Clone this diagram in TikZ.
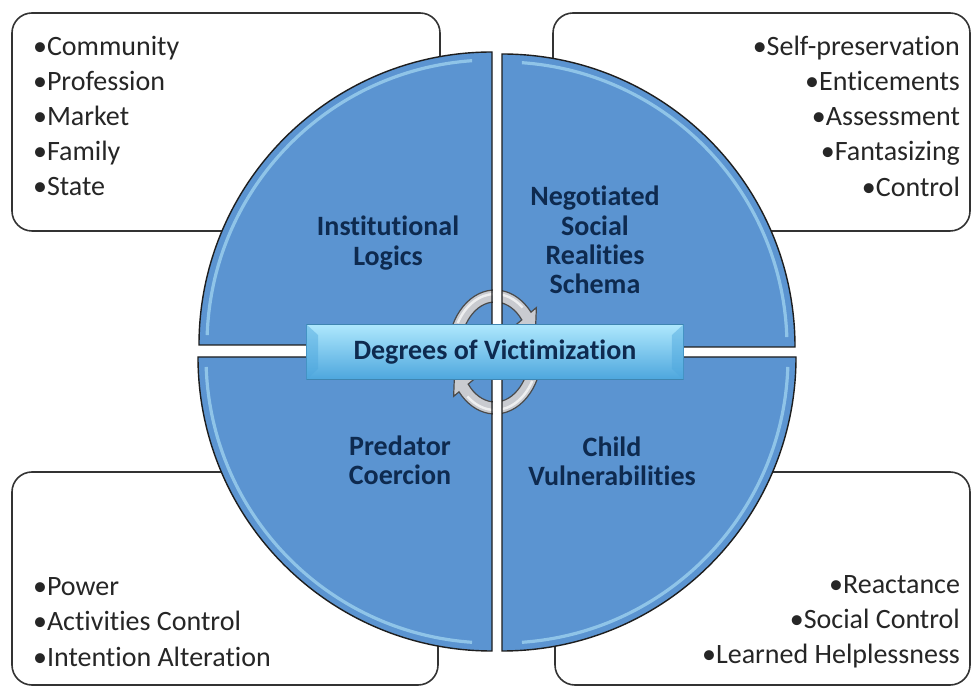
\documentclass[tikz,border=0pt]{standalone}
\usepackage{fontspec}
\setmainfont{Carlito}[Ligatures=NoCommon]
\usetikzlibrary{positioning, calc}
\definecolor{quadblue}{HTML}{5B94D1}
\definecolor{quadline}{HTML}{1E1E1E}
\definecolor{rimblue}{HTML}{B2E4F8}
\definecolor{navytext}{HTML}{0E2A4F}
\definecolor{boxgrey}{HTML}{333333}
\definecolor{bannertop}{HTML}{AEE8FD}
\definecolor{bannermid}{HTML}{7FD0F6}
\definecolor{bannerbot}{HTML}{4DA6DD}
\definecolor{ringgrey}{HTML}{C9CBD0}
\definecolor{ringline}{HTML}{4A4A4A}
\tikzset{
  listbox/.style={draw=boxgrey, line width=0.8pt, rounded corners=10pt, fill=white},
  quadfill/.style={fill=quadblue},
  quadedge/.style={draw=quadline, line width=0.7pt},
  rim/.style={draw=rimblue, line width=1.6pt, opacity=0.6},
  ringarrow/.style={fill=ringgrey, draw=ringline, line width=0.6pt},
  ringshine/.style={draw=white, line width=1.2pt, opacity=0.7},
  banner/.style={rectangle, minimum width=188.5pt, minimum height=27.5pt,
                 top color=bannertop, middle color=bannermid, bottom color=bannerbot,
                 draw=bannerbot!80!black, line width=0.3pt,
                 font=\fontsize{14}{16}\selectfont\bfseries, text=navytext},
  facet/.style={fill=bannerbot, opacity=0.45},
  qlabel/.style={align=center, font=\fontsize{14}{14.6}\selectfont\bfseries, text=navytext},
  items/.style={font=\fontsize{14}{17.6}\selectfont, text=black!85},
}

\begin{document}
\begin{tikzpicture}[x=0.5pt, y=-0.5pt]
  \useasboundingbox (0,0) rectangle (974,688);
  \fill[white] (0,0) rectangle (974,688);

  % the four list boxes, behind the circle
  \draw[listbox] (12,13) rectangle (440,231);
  \draw[listbox] (553,13) rectangle (970,231);
  \draw[listbox] (12,472) rectangle (438,685);
  \draw[listbox] (555,472) rectangle (970,685);

  % quadrants
  \fill[quadfill] (492,345) -- (199,345) arc[start angle=180, end angle=270, radius=293] -- cycle;
  \fill[quadfill] (502,347) -- (502,54) arc[start angle=270, end angle=360, radius=293] -- cycle;
  \fill[quadfill] (492,357) -- (492,651) arc[start angle=90, end angle=180, radius=294] -- cycle;
  \fill[quadfill] (502,357) -- (796,357) arc[start angle=0, end angle=90, radius=294] -- cycle;

  \draw[rim] ([shift={(182:285)}]492,345) arc[start angle=182, end angle=266, radius=285];
  \draw[rim] ([shift={(274:285)}]502,347) arc[start angle=274, end angle=358, radius=285];
  \draw[rim] ([shift={(94:286)}]492,357) arc[start angle=94, end angle=178, radius=286];
  \draw[rim] ([shift={(2:286)}]502,357) arc[start angle=2, end angle=86, radius=286];

  % circular arrows
  \begin{scope}[shift={(495,352)}]
    \filldraw[ringarrow] (-172:47 and 62) arc[start angle=-172, end angle=-40, x radius=47, y radius=62]
      -- (-40:54 and 69) -- (-12:41 and 56) -- (-40:28 and 43) -- (-40:35 and 50)
      arc[start angle=-40, end angle=-172, x radius=35, y radius=50] -- cycle;
    \filldraw[ringarrow] (8:47 and 62) arc[start angle=8, end angle=140, x radius=47, y radius=62]
      -- (140:54 and 69) -- (168:41 and 56) -- (140:28 and 43) -- (140:35 and 50)
      arc[start angle=140, end angle=8, x radius=35, y radius=50] -- cycle;
    \draw[ringshine] (-150:43 and 58) arc[start angle=-150, end angle=-50, x radius=43, y radius=58];
    \draw[ringshine] (30:43 and 58) arc[start angle=30, end angle=130, x radius=43, y radius=58];
  \end{scope}

  % gap between the quadrants runs over the arrows
  \fill[white] (492.5,280) rectangle (501.5,425);
  \draw[quadedge] (492,345) -- (199,345) arc[start angle=180, end angle=270, radius=293] -- cycle;
  \draw[quadedge] (502,347) -- (502,54) arc[start angle=270, end angle=360, radius=293] -- cycle;
  \draw[quadedge] (492,357) -- (492,651) arc[start angle=90, end angle=180, radius=294] -- cycle;
  \draw[quadedge] (502,357) -- (796,357) arc[start angle=0, end angle=90, radius=294] -- cycle;

  % banner
  \node[banner] (deg) at (495,352) {Degrees of Victimization};
  \fill[facet] (deg.north west) -- ++(12,11) -- ($(deg.south west)+(12,-11)$) -- (deg.south west) -- cycle;
  \fill[facet] (deg.north east) -- ++(-12,11) -- ($(deg.south east)+(-12,-11)$) -- (deg.south east) -- cycle;

  % quadrant labels
  \node[qlabel] (inst) at (388,243) {Institutional\\Logics};
  \node[qlabel] (nego) at (595,240) {Negotiated\\Social\\Realities\\Schema};
  \node[qlabel] (pred) at (400,460) {Predator\\Coercion};
  \node[qlabel] (child) at (612,461) {Child\\Vulnerabilities};

  % lists
  \node[items, anchor=west, align=left] (instlist) at (26,116)
    {•Community\\•Profession\\•Market\\•Family\\•State};
  \node[items, anchor=east, align=right] (negolist) at (967,116)
    {•Self-preservation\\•Enticements\\•Assessment\\•Fantasizing\\•Control};
  \node[items, anchor=west, align=left] (predlist) at (26,622)
    {•Power\\•Activities Control\\•Intention Alteration};
  \node[items, anchor=east, align=right] (childlist) at (967,622)
    {•Reactance\\•Social Control\\•Learned Helplessness};
\end{tikzpicture}
\end{document}
